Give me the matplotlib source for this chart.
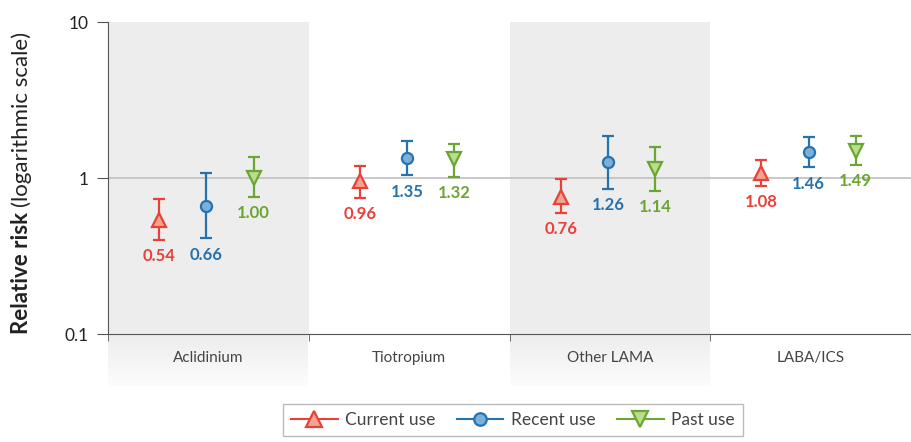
import numpy as np
import matplotlib.pyplot as plt
from matplotlib.colors import to_rgb
from matplotlib.lines import Line2D
from matplotlib.transforms import blended_transform_factory

plt.rcParams['font.family'] = ['Lato', 'DejaVu Sans']

# drug classes and relative risk (point estimate with 95% CI)
drugs = ['Aclidinium', 'Tiotropium', 'Other LAMA', 'LABA/ICS']
series = ['Current use', 'Recent use', 'Past use']

rr_current = [0.54, 0.96, 0.76, 1.08]
lo_current = [0.40, 0.75, 0.60, 0.89]
hi_current = [0.73, 1.20, 0.99, 1.30]

rr_recent = [0.66, 1.35, 1.26, 1.46]
lo_recent = [0.41, 1.04, 0.85, 1.17]
hi_recent = [1.07, 1.73, 1.87, 1.82]

rr_past = [1.00, 1.32, 1.14, 1.49]
lo_past = [0.76, 1.02, 0.83, 1.21]
hi_past = [1.37, 1.65, 1.59, 1.86]

styles = [
    dict(marker='^', color='#e8413a', mfc='#f4a391', ms=10),
    dict(marker='o', color='#2473b0', mfc='#7db0d9', ms=8),
    dict(marker='v', color='#6aa632', mfc='#b9dc8d', ms=10),
]
offsets = [-0.245, -0.01, 0.225]

fig = plt.figure(figsize=(9.11, 4.42), dpi=100)
ax = fig.add_axes([0.1186, 0.2443, 0.8814, 0.7059])
ax.set_yscale('log')

# shaded bands for alternate groups, fading out under the axis labels
below = blended_transform_factory(ax.transData, ax.transAxes)
top_c, bot_c = np.array(to_rgb('#ededed')), np.array(to_rgb('#fcfcfc'))
t = np.linspace(0, 1, 60).reshape(-1, 1, 1)
fade = top_c * (1 - t) + bot_c * t
for g in (0, 2):
    ax.axvspan(g - 0.5, g + 0.5, color='#ededed', lw=0, zorder=0)
    ax.imshow(fade, extent=(g - 0.5, g + 0.5, -0.165, 0.0), transform=below,
              aspect='auto', clip_on=False, zorder=0, interpolation='bilinear')
ax.set_xlim(-0.5, 3.5)
ax.set_ylim(0.1, 10)

ax.axhline(1, color='#c4c4c4', lw=1.3, zorder=1)

data = [(rr_current, lo_current, hi_current),
        (rr_recent, lo_recent, hi_recent),
        (rr_past, lo_past, hi_past)]
x = np.arange(len(drugs))
for (rr, lo, hi), st, off in zip(data, styles, offsets):
    rr, lo, hi = map(np.array, (rr, lo, hi))
    xs = x + off
    ax.errorbar(xs, rr, yerr=[rr - lo, hi - rr], fmt='none', ecolor=st['color'],
                elinewidth=1.6, capsize=4, capthick=1.6, zorder=3)
    ax.plot(xs, rr, ls='none', marker=st['marker'], ms=st['ms'],
            mfc=st['mfc'], mec=st['color'], mew=1.6, zorder=4)
    for xi, r, l in zip(xs, rr, lo):
        ax.annotate(f'{r:.2f}', (xi, l), xytext=(0, -6), textcoords='offset points',
                    ha='center', va='top', color=st['color'], fontsize=12,
                    fontweight='bold')

# axes styling
for side in ('top', 'right'):
    ax.spines[side].set_visible(False)
ax.spines['left'].set_color('#555555')
ax.spines['bottom'].set_color('#555555')
ax.set_yticks([0.1, 1, 10])
ax.set_yticklabels(['0.1', '1', '10'])
ax.yaxis.set_minor_locator(plt.NullLocator())
ax.tick_params(axis='y', length=8, color='#555555', labelsize=12.5, pad=6,
               labelcolor='#222222')
ax.set_xticks(x)
ax.set_xticklabels(drugs)
ax.tick_params(axis='x', length=0, pad=12, labelsize=11, labelcolor='#444444')
ax.set_xticks([-0.5, 0.5, 1.5, 2.5], minor=True)
ax.tick_params(axis='x', which='minor', length=5, color='#555555')

# y label: bold part plus regular part
fig.canvas.draw()
t1 = fig.text(0.024, 0.245, 'Relative risk', rotation=90, fontsize=16,
              fontweight='bold', ha='center', va='bottom', color='#222222')
fig.canvas.draw()
bb = t1.get_window_extent().transformed(fig.transFigure.inverted())
fig.text(0.024, bb.y1 + 0.01, '(logarithmic scale)', rotation=90, fontsize=16,
         ha='center', va='bottom', color='#222222')

handles = [Line2D([], [], color=st['color'], lw=1.5, marker=st['marker'],
                  ms=st['ms'] + 1, mfc=st['mfc'], mec=st['color'], mew=1.6)
           for st in styles]
leg = fig.legend(handles, series, loc='lower center', bbox_to_anchor=(0.563, -0.005),
                 ncol=3, frameon=True, fancybox=False, fontsize=12.5,
                 handlelength=2.7, columnspacing=1.2, handletextpad=0.45,
                 borderpad=0.45, edgecolor='#aaaaaa')
for txt in leg.get_texts():
    txt.set_color('#444444')
leg.get_frame().set_linewidth(1.0)

fig.savefig('out.png', dpi=100)
